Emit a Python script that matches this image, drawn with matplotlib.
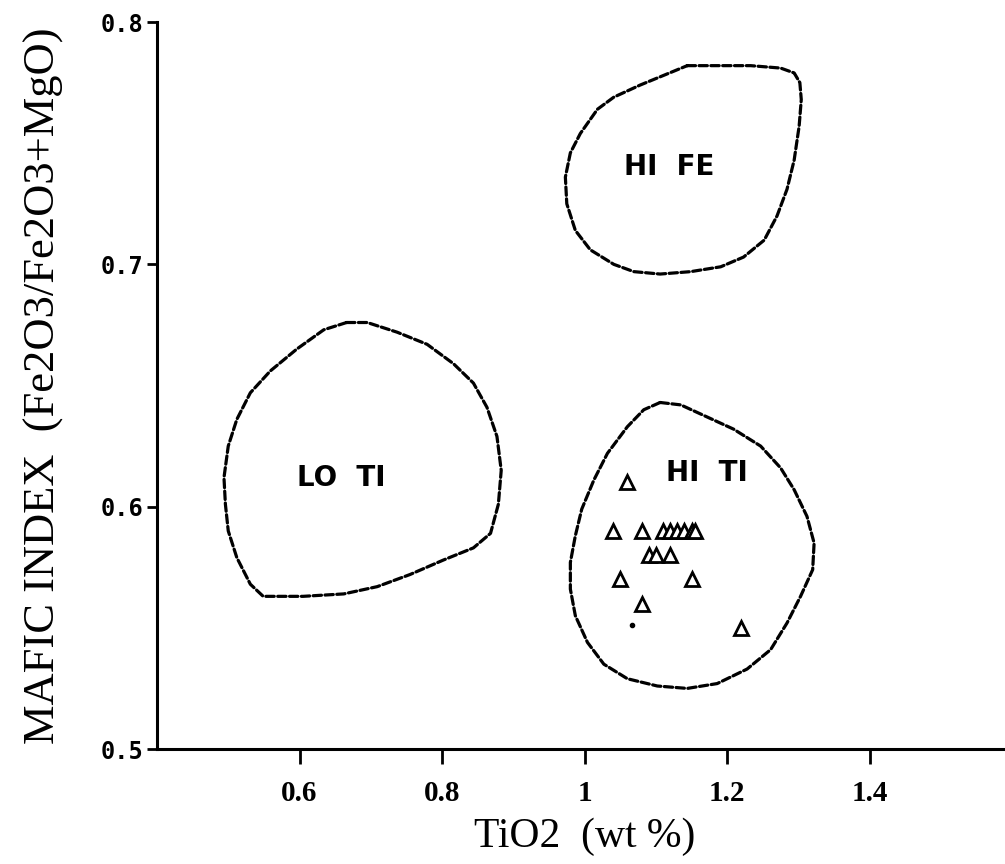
import matplotlib as mpl
mpl.use('Agg')
from matplotlib import pyplot as plt

# field outlines (TiO2, mafic index)
hife_x = [1.144, 1.186, 1.233, 1.275, 1.294, 1.302, 1.304, 1.301, 1.294, 1.284,
          1.270, 1.252, 1.223, 1.191, 1.149, 1.106, 1.069, 1.041, 1.008, 0.987,
          0.975, 0.973, 0.980, 0.994, 1.018, 1.041, 1.078, 1.111]
hife_y = [0.782, 0.782, 0.782, 0.781, 0.779, 0.775, 0.768, 0.757, 0.743, 0.731,
          0.720, 0.710, 0.703, 0.699, 0.697, 0.696, 0.697, 0.700, 0.706, 0.714,
          0.725, 0.736, 0.746, 0.754, 0.764, 0.769, 0.774, 0.778]

loti_x = [0.666, 0.695, 0.737, 0.779, 0.816, 0.844, 0.863, 0.877, 0.883, 0.879,
          0.868, 0.844, 0.802, 0.755, 0.709, 0.662, 0.605, 0.549, 0.531, 0.512,
          0.500, 0.496, 0.494, 0.500, 0.512, 0.531, 0.559, 0.596, 0.634]
loti_y = [0.676, 0.676, 0.672, 0.667, 0.659, 0.651, 0.641, 0.629, 0.615, 0.601,
          0.589, 0.583, 0.578, 0.572, 0.567, 0.564, 0.563, 0.563, 0.568, 0.579,
          0.590, 0.601, 0.612, 0.625, 0.636, 0.647, 0.656, 0.665, 0.673]

hiti_x = [1.106, 1.135, 1.172, 1.209, 1.247, 1.275, 1.294, 1.312, 1.322, 1.320,
          1.303, 1.284, 1.261, 1.228, 1.186, 1.144, 1.102, 1.060, 1.027, 1.004,
          0.987, 0.980, 0.980, 0.987, 0.996, 1.013, 1.032, 1.060, 1.083]
hiti_y = [0.643, 0.642, 0.637, 0.632, 0.625, 0.616, 0.607, 0.596, 0.585, 0.574,
          0.563, 0.552, 0.541, 0.533, 0.527, 0.525, 0.526, 0.529, 0.535, 0.544,
          0.555, 0.566, 0.577, 0.588, 0.599, 0.611, 0.622, 0.633, 0.640]

# samples
tio2 = [1.06, 1.04, 1.08, 1.11, 1.12, 1.13, 1.14, 1.15, 1.155, 1.09, 1.10, 1.12,
        1.05, 1.15, 1.08, 1.22]
mafic = [0.61, 0.59, 0.59, 0.59, 0.59, 0.59, 0.59, 0.59, 0.59, 0.58, 0.58, 0.58,
         0.57, 0.57, 0.56, 0.55]
stray_x = [1.066]
stray_y = [0.551]

field_labels = ['HI FE', 'LO TI', 'HI TI']
label_x = [1.118, 0.659, 1.172]
label_y = [0.740, 0.612, 0.614]

xticks = [0.6, 0.8, 1.0, 1.2, 1.4]
xticklabels = ['0.6', '0.8', '1', '1.2', '1.4']
yticks = [0.5, 0.6, 0.7, 0.8]
yticklabels = ['0.5', '0.6', '0.7', '0.8']

fig = plt.figure(figsize=(10.05, 8.64), dpi=100)
ax = fig.add_axes([0.1562, 0.1331, 0.851, 0.8414])

dash = (0, (2.6, 1.1))
for fx, fy in [(hife_x, hife_y), (loti_x, loti_y), (hiti_x, hiti_y)]:
    ax.plot(fx + fx[:1], fy + fy[:1], color='black', lw=2.3, linestyle=dash,
            dash_capstyle='round', solid_joinstyle='round')

ax.plot(tio2, mafic, linestyle='none', marker='^', markersize=10.5,
        markerfacecolor='white', markeredgecolor='black', markeredgewidth=2.0)
ax.plot(stray_x, stray_y, linestyle='none', marker='o', markersize=3, color='black')

for lab, lx, ly in zip(field_labels, label_x, label_y):
    ax.text(lx, ly, lab.replace(' ', '  '), ha='center', va='center', fontsize=20,
            fontweight='bold', family='DejaVu Sans')

ax.set_xlim(0.4, 1.6)
ax.set_ylim(0.5, 0.8)

ax.spines['top'].set_visible(False)
ax.spines['right'].set_visible(False)
ax.spines['left'].set_linewidth(2.2)
ax.spines['bottom'].set_linewidth(2.2)

ax.set_xticks(xticks)
ax.set_xticklabels(xticklabels, fontsize=21, fontweight='bold', family='Liberation Serif')
ax.set_yticks(yticks)
ax.set_yticklabels(yticklabels, fontsize=17, fontweight='bold', family='DejaVu Sans Mono')
ax.tick_params(axis='x', direction='out', length=11, width=2.0, pad=11)
ax.tick_params(axis='y', direction='out', length=7, width=2.0, pad=3)

ax.set_xlabel('TiO2  (wt %)', fontsize=30, family='Liberation Serif', labelpad=8)
ax.set_ylabel('MAFIC INDEX  (Fe2O3/Fe2O3+MgO)', fontsize=32, family='Liberation Serif',
              labelpad=26)

plt.savefig('out.png', dpi=100)
